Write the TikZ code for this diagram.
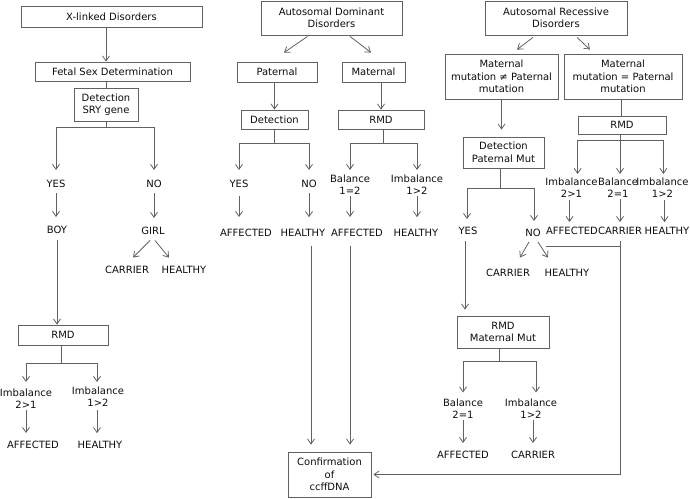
\documentclass[tikz,border=0pt]{standalone}
\usepackage{fontspec}
\setmainfont{DejaVu Sans}
\usetikzlibrary{arrows.meta}
\definecolor{linegray}{gray}{0.38}
\definecolor{txt}{gray}{0.05}
\begin{document}
\begin{tikzpicture}[x=1pt,y=-1pt,
  box/.style={draw=linegray, line width=0.8pt, inner sep=0pt, align=center, text=txt,
    font=\fontsize{10}{12.5}\selectfont},
  lbl/.style={inner sep=1pt, align=center, text=txt, font=\fontsize{10}{12}\selectfont},
  ln/.style={draw=linegray, line width=0.8pt},
  arr/.style={draw=linegray, line width=0.8pt, -{Straight Barb[length=5pt,width=7pt]}},
  gap/.style={shorten >=#1},
  sgap/.style={shorten <=#1}]
\useasboundingbox (0,0) rectangle (690,498);

% ---------- X-linked column ----------
\node[box, minimum width=181pt, minimum height=21pt] (xl) at (111.5,16.5) {X-linked Disorders};
\node[box, minimum width=155pt, minimum height=19pt] (fsd) at (112.5,71.5) {Fetal Sex Determination};
\node[box, minimum width=64pt, minimum height=33pt] (sry) at (106,104.5) {Detection\\SRY gene};
\node[lbl] (yes1) at (56,184) {YES};
\node[lbl] (no1) at (154,184) {NO};
\node[lbl] (boy) at (57,230) {BOY};
\node[lbl] (girl) at (153,231) {GIRL};
\node[lbl] (car1) at (127,270) {CARRIER};
\node[lbl] (hea1) at (184,270) {HEALTHY};
\node[box, minimum width=90pt, minimum height=20pt] (rmd1) at (63,335) {RMD};
\node[lbl] (imb1) at (26,399) {Imbalance\\2>1};
\node[lbl] (imb2) at (98,397) {Imbalance\\1>2};
\node[lbl] (aff1) at (33,445) {AFFECTED};
\node[lbl] (hea2) at (100,445) {HEALTHY};

\draw[arr] (xl.south -| sry) -- (fsd.north -| sry);
\draw[ln] (fsd.south -| sry) -- (sry.north);
\draw[ln] (sry.south) -- ++(0,6) coordinate (f1);
\draw[arr, gap=9pt] (f1) -| (yes1.north);
\draw[arr, gap=9pt] (f1) -| (no1.north);
\draw[arr, sgap=4.5pt, gap=8pt] (yes1.south) -- (yes1.south |- boy.north);
\draw[arr, sgap=4.5pt, gap=8pt] (no1.south) -- (no1.south |- girl.north);
\draw[arr] ([xshift=-3pt,yshift=-4.5pt]girl.south) -- ([xshift=6pt,yshift=7.5pt]car1.north);
\draw[arr] ([xshift=2pt,yshift=-4.5pt]girl.south) -- ([xshift=-15pt,yshift=7.5pt]hea1.north);
\draw[arr, sgap=5pt] (boy.south) -- (boy.south |- rmd1.north);
\draw[ln] ([xshift=-2pt]rmd1.south) -- ++(0,18) coordinate (f2);
\draw[arr, gap=6pt] (f2) -| (imb1.north);
\draw[arr, gap=4pt] (f2) -| ([xshift=-1pt]imb2.north);
\draw[arr, gap=7pt] (imb1.south) -- (imb1.south |- aff1.north);
\draw[arr, sgap=2pt, gap=7pt] ([xshift=-1pt]imb2.south) -- ([xshift=-1pt]imb2.south |- hea2.north);

% ---------- Autosomal dominant column ----------
\node[box, minimum width=141pt, minimum height=34pt] (ad) at (331.5,18) {Autosomal Dominant\\Disorders};
\node[box, minimum width=80pt, minimum height=20pt] (pat) at (277,72) {Paternal};
\node[box, minimum width=63pt, minimum height=20pt] (mat) at (373.5,72) {Maternal};
\node[box, minimum width=67pt, minimum height=19pt] (det) at (274.5,119.5) {Detection};
\node[box, minimum width=86pt, minimum height=19pt] (rmd2) at (381,119.5) {RMD};
\node[lbl] (yes2) at (239,184) {YES};
\node[lbl] (no2) at (309,184) {NO};
\node[lbl] (bal1) at (350,185) {Balance\\1=2};
\node[lbl] (imb3) at (417,185) {Imbalance\\1>2};
\node[lbl] (aff2) at (246,233) {AFFECTED};
\node[lbl] (hea3) at (303,233) {HEALTHY};
\node[lbl] (aff3) at (357,233) {AFFECTED};
\node[lbl] (hea4) at (416,233) {HEALTHY};
\node[box, minimum width=83pt, minimum height=45pt] (conf) at (329.5,474.5) {Confirmation\\of\\ccffDNA};

\draw[arr] ([xshift=-24pt,yshift=-1pt]ad.south) -- ([xshift=7pt,yshift=9pt]pat.north);
\draw[arr] ([xshift=18.5pt,yshift=-1pt]ad.south) -- ([xshift=-2.5pt,yshift=9pt]mat.north);
\draw[arr] (pat.south -| det) -- (det.north);
\draw[arr] (mat.south -| rmd2) -- (rmd2.north);
\draw[ln] (det.south) -- ++(0,14) coordinate (f3);
\draw[arr, gap=9pt] (f3) -| (yes2.north);
\draw[arr, gap=9pt] (f3) -| (no2.north);
\draw[ln] ([xshift=2pt]rmd2.south) -- ++(0,14) coordinate (f4);
\draw[arr, gap=4pt] (f4) -| (bal1.north);
\draw[arr, gap=4pt] (f4) -| (imb3.north);
\draw[arr, sgap=7pt, gap=11pt] (yes2.south) -- (yes2.south |- aff2.north);
\draw[arr, sgap=4.5pt, gap=11pt] (no2.south) -- (no2.south |- hea3.north);
\draw[arr, gap=11pt] (bal1.south) -- (bal1.south |- aff3.north);
\draw[arr, gap=11pt] (imb3.south) -- (imb3.south |- hea4.north);
\draw[arr, sgap=8.5pt, gap=7pt] ([xshift=8pt]hea3.south) -- ([xshift=8pt]hea3.south |- conf.north);
\draw[arr, sgap=8.5pt, gap=7pt] ([xshift=-7pt]aff3.south) -- ([xshift=-7pt]aff3.south |- conf.north);

% ---------- Autosomal recessive column ----------
\node[box, minimum width=142pt, minimum height=34pt] (ar) at (556,18) {Autosomal Recessive\\Disorders};
\node[box, minimum width=113pt, minimum height=45pt] (mnp) at (501.5,76.5) {Maternal\\mutation ≠ Paternal\\mutation};
\node[box, minimum width=118pt, minimum height=45pt] (mep) at (623,76.5) {Maternal\\mutation = Paternal\\mutation};
\node[box, minimum width=81pt, minimum height=31pt] (dpm) at (503.5,152.5) {Detection\\Paternal Mut};
\node[box, minimum width=88pt, minimum height=18pt] (rmd3) at (622,125) {RMD};
\node[box, minimum width=92pt, minimum height=32pt] (rmm) at (503,332) {RMD\\Maternal Mut};
\node[lbl] (yes3) at (468,231) {YES};
\node[lbl] (no3) at (533,233) {NO};
\node[lbl] (car2) at (508,273) {CARRIER};
\node[lbl] (hea5) at (567,273) {HEALTHY};
\node[lbl] (imb4) at (571.5,188) {Imbalance\\2>1};
\node[lbl] (bal2) at (618,188) {Balance\\2=1};
\node[lbl] (imb5) at (662.5,188) {Imbalance\\1>2};
\node[lbl] (aff4) at (572,231) {AFFECTED};
\node[lbl] (car3) at (620,231) {CARRIER};
\node[lbl] (hea6) at (667,231) {HEALTHY};
\node[lbl] (bal3) at (463,409) {Balance\\2=1};
\node[lbl] (imb6) at (531,409) {Imbalance\\1>2};
\node[lbl] (aff5) at (463,455) {AFFECTED};
\node[lbl] (car4) at (533,455) {CARRIER};

\draw[arr] ([xshift=-23pt,yshift=-2pt]ar.south) -- ([xshift=15.5pt,yshift=4pt]mnp.north);
\draw[arr] ([xshift=21pt,yshift=-2pt]ar.south) -- ([xshift=-33pt,yshift=4pt]mep.north);
\draw[arr, gap=7pt] (mnp.south) -- (mnp.south |- dpm.north);
\draw[ln] ([xshift=-2pt]mep.south) -- ([xshift=-2pt]mep.south |- rmd3.north);
\draw[ln] ([xshift=-2pt]rmd3.south) -- ++(0,6) coordinate (f5);
\coordinate (f5l) at (f5 -| rmd3.west);
\coordinate (f5r) at ([xshift=-3pt]f5 -| rmd3.east);
\draw[ln] (f5l) -- (f5r);
\draw[arr, gap=3pt] (f5l) -- (f5l |- imb4.north);
\draw[arr, gap=3pt] (f5) -- (f5 |- bal2.north);
\draw[arr, gap=3pt] (f5r) -- (f5r |- imb5.north);
\draw[arr, sgap=1pt, gap=4pt] ([xshift=-2pt]imb4.south) -- ([xshift=-2pt]imb4.south |- aff4.north);
\draw[arr, gap=4pt] (f5 |- bal2.south) -- (f5 |- aff4.north);
\draw[arr, sgap=1pt, gap=4pt] ([xshift=2pt]imb5.south) -- ([xshift=2pt]imb5.south |- hea6.north);

\draw[ln] ([xshift=-3.5pt]dpm.south) -- ++(0,20) coordinate (f6);
\draw[arr, gap=7pt] (f6) -| ([xshift=-1pt]yes3.north);
\draw[arr, gap=7pt] (f6) -| ([xshift=1pt]no3.north);
\draw[arr, sgap=5pt, gap=6pt] ([xshift=-3pt]yes3.south) -- ([xshift=-3pt]yes3.south |- rmm.north);
\draw[arr] ([xshift=-4pt,yshift=-4pt]no3.south) -- ([xshift=12pt,yshift=10.5pt]car2.north);
\draw[arr] ([xshift=5pt,yshift=-4pt]no3.south) -- ([xshift=-19pt,yshift=10.5pt]hea5.north);
\coordinate (nj) at (546,246);
\draw[ln] (nj) -- (nj -| car3.south);
\draw[arr, sgap=5pt, gap=2pt] (car3.south) -- (car3.south |- conf.east) -- (conf.east);

\draw[ln] ([xshift=-4pt]rmm.south) -- ++(0,13) coordinate (f7);
\draw[arr, gap=5.5pt] (f7) -| (bal3.north);
\draw[arr, gap=5.5pt] (f7) -| ([xshift=5pt]imb6.north);
\draw[arr, gap=7pt] (bal3.south) -- (bal3.south |- aff5.north);
\draw[arr, gap=7pt] (car4.north |- imb6.south) -- (car4.north);
\end{tikzpicture}
\end{document}
